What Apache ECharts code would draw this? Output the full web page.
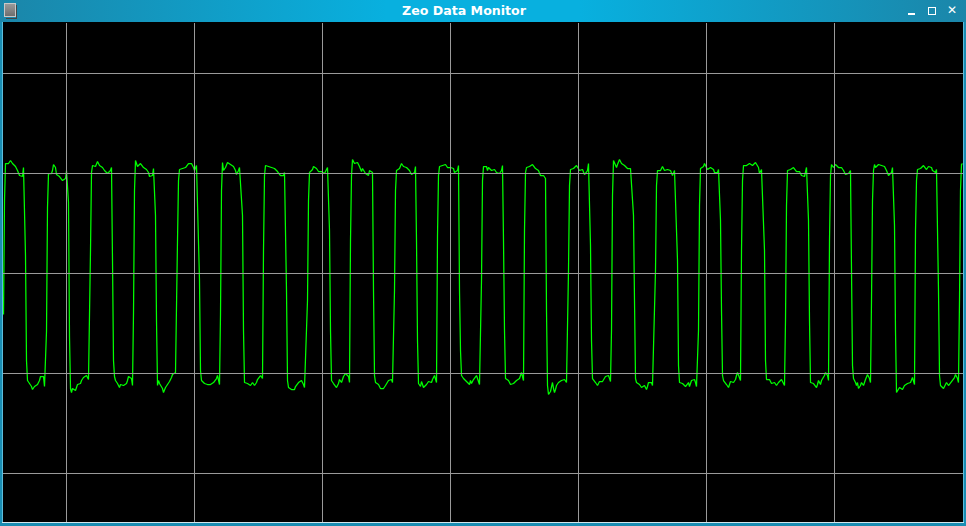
<!DOCTYPE html>
<html>
<head>
<meta charset="utf-8">
<script src="https://cdn.jsdelivr.net/npm/echarts@6/dist/echarts.min.js"></script>
<style>
  html, body { margin: 0; padding: 0; background: #1790b5; }
  #win { position: absolute; left: 0; top: 0; width: 966px; height: 526px; background: #1a8db2; overflow: hidden; }
  #titlebar { position: absolute; left: 0; top: 0; width: 966px; height: 22px;
    background: linear-gradient(to right, #1b86a9 0%, #08b0df 40%, #08b0df 60%, #1b86a9 100%); }
  #title { position: absolute; left: 0; width: 928px; top: 0; height: 22px; line-height: 22px; text-align: center;
    color: #ffffff; font-family: "DejaVu Sans", sans-serif; font-weight: bold; font-size: 12.6px; }
  #icon { position: absolute; left: 4px; top: 3px; width: 12px; height: 14px; background: linear-gradient(#9a9a9a, #6e6e6e);
    border: 1px solid #c8c8c8; box-sizing: border-box; }
  #icon2 { position: absolute; left: 6px; top: 5px; width: 10px; height: 13px; border-right: 1px solid #444; border-bottom: 1px solid #444; }
  .btn { position: absolute; color: #ffffff; font-family: "DejaVu Sans", sans-serif; font-weight: bold; font-size: 11px; top: 4px; }
  #bmin { left: 908px; top: 13px; width: 7px; height: 2px; background: #fff; }
  #bmax { left: 928px; top: 7px; width: 8px; height: 8px; border: 1.5px solid #fff; box-sizing: border-box; }
  #bclose { left: 947px; top: 3px; font-size: 12px; }
  #chart { position: absolute; left: 3px; top: 22px; width: 960px; height: 501px; background: #000000; }
  #lline { position: absolute; left: 2px; top: 22px; width: 1px; height: 501px; background: #5cbddc; }
  #rline { position: absolute; left: 963px; top: 22px; width: 1px; height: 501px; background: #5cbddc; }
  #bline { position: absolute; left: 2px; top: 522px; width: 962px; height: 1px; background: #d4e6ec; }
</style>
</head>
<body>
<div id="win">
  <div id="titlebar"></div>
  <div id="icon"></div><div id="icon2"></div>
  <div id="title">Zeo Data Monitor</div>
  <div class="btn" id="bmin"></div>
  <div class="btn" id="bmax"></div>
  <div class="btn" id="bclose">✕</div>
  <div id="chart"></div>
  <div id="lline"></div>
  <div id="rline"></div>
  <div id="bline"></div>
</div>
<script>
// Sample indices (128 samples per second) of the one-second vertical grid marks
const secondMarks = [63, 191, 319, 447, 575, 703, 831];
// Horizontal grid levels (signal units)
const levelMarks = [-200, -100, 0, 100, 200];
// EEG signal samples, one per pixel column
const signal = [
  -41, 73, 110, 109, 110, 110, 112, 113, 111, 110, 108, 108, 107, 105, 103, 101, 98, 97, 97, 97, 106, 106, 18, -87, -107,
  -107, -110, -112, -113, -116, -116, -113, -112, -112, -111, -109, -107, -103, -103, -104, -103, -113, -114,
  -58, 66, 100, 100, 100, 100, 103, 109, 109, 106, 99, 98, 99, 97, 98, 95, 93, 93, 94, 95, 103, 101, 71, -63, -115,
  -119, -115, -113, -117, -117, -115, -111, -111, -110, -110, -107, -106, -104, -103, -102, -102, -101, -106, -105, 23, 101, 108,
  106, 106, 107, 109, 112, 110, 108, 108, 107, 106, 105, 103, 102, 101, 100, 100, 101, 103, 106, 13, -87, -103,
  -107, -109, -110, -112, -114, -111, -110, -111, -112, -114, -113, -110, -107, -103, -103, -102, -105, -112, -40, 83, 113,
  113, 107, 108, 109, 110, 110, 108, 106, 105, 105, 104, 103, 101, 97, 97, 97, 98, 105, 106, 58, -47, -112,
  -107, -110, -111, -112, -115, -119, -117, -114, -112, -111, -110, -108, -106, -104, -101, -100, -99, -99, -100, 33, 93, 104,
  104, 104, 105, 106, 106, 106, 107, 108, 110, 111, 112, 110, 108, 106, 103, 105, 108, 109, 109, -7, -97, -107,
  -109, -109, -110, -112, -112, -111, -110, -109, -111, -112, -111, -109, -107, -107, -105, -102, -103, -111, -41, 83, 111,
  103, 105, 106, 108, 111, 113, 113, 109, 108, 108, 107, 106, 103, 99, 99, 103, 106, 106, 107, 58, -57, -109,
  -108, -109, -110, -111, -112, -112, -110, -109, -111, -112, -110, -109, -106, -106, -105, -102, -101, -105, 23, 98, 108,
  108, 108, 107, 105, 105, 106, 107, 106, 105, 104, 103, 102, 101, 101, 98, 96, 96, 98, 101, 101, -17, -107,
  -114, -114, -115, -116, -117, -117, -116, -113, -112, -111, -109, -107, -107, -107, -108, -111, -114, -114, -114, -27, 73, 101,
  102, 102, 104, 107, 108, 108, 105, 103, 102, 102, 102, 102, 101, 100, 100, 99, 100, 106, 108, 43, -57, -107,
  -109, -110, -110, -112, -114, -113, -110, -106, -108, -109, -106, -103, -101, -100, -100, -100, -103, -109, 33, 98, 114,
  114, 110, 109, 110, 111, 109, 107, 105, 102, 105, 105, 103, 100, 98, 98, 98, 103, 104, 103, 101, -17, -102,
  -109, -110, -111, -111, -113, -115, -115, -113, -115, -114, -112, -111, -110, -107, -105, -105, -106, -109, -111, -17, 83, 103,
  104, 104, 105, 107, 110, 110, 107, 105, 105, 106, 107, 105, 103, 101, 99, 98, 99, 101, 107, 33, -67, -110,
  -112, -113, -108, -111, -114, -114, -113, -111, -109, -108, -106, -108, -109, -106, -104, -102, -102, -109, 38, 98, 107,
  107, 107, 108, 108, 109, 109, 109, 106, 106, 107, 106, 108, 108, 105, 101, 99, 99, 103, 108, -17, -77, -102,
  -103, -105, -106, -107, -108, -110, -110, -111, -107, -110, -109, -106, -105, -104, -102, -101, -101, -111, -112, -7, 93, 107,
  108, 108, 107, 103, 106, 108, 105, 103, 104, 104, 104, 103, 101, 99, 99, 100, 102, 103, 108, 33, -57, -105,
  -106, -106, -107, -109, -111, -112, -111, -110, -109, -109, -107, -106, -106, -105, -102, -99, -99, -107, 43, 101, 106,
  106, 106, 107, 108, 108, 109, 109, 107, 105, 104, 104, 103, 101, 98, 98, 98, 98, 96, 95, -37, -112, -121,
  -121, -118, -116, -109, -115, -119, -116, -112, -111, -109, -110, -108, -107, -106, -106, -106, -106, -109, -107, 3, 88, 104,
  104, 104, 105, 106, 107, 108, 107, 106, 103, 104, 104, 104, 102, 99, 98, 98, 103, 110, 111, 28, -67, -105,
  -104, -105, -109, -111, -112, -112, -108, -106, -106, -108, -109, -106, -103, -102, -102, -102, -105, -108, -57, 78, 113,
  114, 113, 106, 109, 111, 114, 114, 110, 109, 108, 108, 108, 107, 105, 103, 103, 105, 106, 106, 58, -27, -105,
  -109, -109, -110, -111, -113, -114, -114, -113, -112, -114, -116, -113, -109, -108, -107, -109, -112, -112, -112, 3, 88, 103,
  102, 102, 103, 105, 107, 107, 103, 104, 104, 104, 104, 104, 103, 101, 98, 97, 103, 104, 104, 13, -92, -109,
  -108, -109, -110, -112, -112, -113, -114, -111, -109, -113, -110, -107, -106, -106, -106, -109, -113, -114, -57, 68, 105,
  107, 105, 107, 110, 111, 108, 104, 105, 106, 106, 106, 106, 104, 101, 99, 99, 101, 104, 104, 53, -37, -102,
  -107, -108, -109, -111, -113, -114, -111, -108, -107, -108, -109, -109, -106, -102, -99, -99, -101, -107, 23, 93, 108,
  108, 108, 108, 108, 109, 110, 110, 110, 108, 108, 110, 111, 111, 109, 106, 100, 101, 104, 104, 104, 23, -87, -106,
  -107, -106, -106, -108, -110, -111, -111, -109, -107, -112, -111, -109, -108, -107, -106, -105, -107, -112, -47, 68, 103,
  104, 104, 104, 104, 105, 106, 106, 105, 102, 103, 104, 102, 100, 98, 97, 97, 97, 98, 106, 106, 53, -47, -109,
  -108, -109, -110, -111, -112, -114, -111, -107, -109, -111, -107, -106, -105, -102, -99, -99, -102, -107, 33, 98, 109,
  109, 106, 108, 109, 109, 107, 106, 106, 106, 106, 105, 103, 101, 99, 99, 99, 100, 102, 103, 3, -92, -105,
  -107, -109, -112, -109, -115, -116, -112, -109, -111, -112, -109, -106, -104, -101, -101, -105, -109, -27, 73, 103, 109,
  106, 104, 107, 109, 110, 111, 108, 108, 108, 107, 106, 103, 101, 98, 98, 98, 101, 106, 106, 48, -57, -119,
  -119, -118, -114, -114, -114, -116, -114, -112, -111, -111, -110, -109, -109, -109, -107, -104, -104, -111, 43, 93, 104,
  104, 104, 105, 106, 107, 108, 108, 106, 104, 106, 107, 107, 107, 106, 103, 101, 101, 101, 104, 104, -17, -102,
  -112, -112, -113, -115, -116, -116, -109, -111, -112, -112, -111, -108, -107, -107, -104, -101, -101, -105, -109, -27, 83, 109, 110
];

const chart = echarts.init(document.getElementById('chart'), null, { renderer: 'canvas' });

const gridMarks = secondMarks.map(x => ({ xAxis: x })).concat(levelMarks.map(y => ({ yAxis: y })));

chart.setOption({
  animation: false,
  backgroundColor: '#000000',
  grid: { left: 0, top: 1, width: 960, height: 500 },
  xAxis: {
    type: 'value', min: -0.5, max: 959.5,
    axisLine: { show: false }, axisTick: { show: false }, axisLabel: { show: false }, splitLine: { show: false }
  },
  yAxis: {
    type: 'value', min: -249.5, max: 250.5,
    axisLine: { show: false }, axisTick: { show: false }, axisLabel: { show: false }, splitLine: { show: false }
  },
  series: [
    {
      name: 'grid', type: 'line', data: [], z: 1, silent: true,
      markLine: {
        silent: true, symbol: ['none', 'none'], animation: false,
        label: { show: false },
        emphasis: { disabled: true },
        lineStyle: { color: '#9a9a9a', width: 1, type: 'solid' },
        data: gridMarks
      }
    },
    {
      name: 'signal', type: 'line', z: 2,
      data: signal.map((v, i) => [i, v]),
      showSymbol: false, symbol: 'none', silent: true,
      lineStyle: { color: '#00ff00', width: 1.25 },
      emphasis: { disabled: true }
    }
  ]
});
</script>
</body>
</html>
